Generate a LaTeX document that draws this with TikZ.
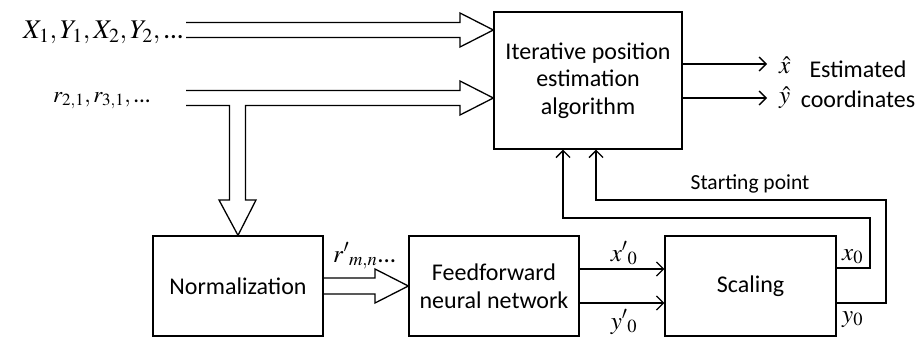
\documentclass[tikz,border=0pt]{standalone}
\usepackage{mathptmx}
\usepackage[no-math]{fontspec}
\setmainfont{Carlito}
\usetikzlibrary{arrows.meta}
\tikzset{
  blk/.style={draw, line width=1.3pt, inner sep=0pt, align=center, font=\fontsize{24}{28}\selectfont},
  wire/.style={line width=1.3pt},
  arr/.style={wire, -{Straight Barb[length=7pt,width=14pt]}},
  dbl/.style={line width=1.3pt, line join=miter},
  mlab/.style={inner sep=0pt, font=\fontsize{25}{30}\selectfont},
  tlab/.style={inner sep=0pt, align=center, font=\fontsize{24}{30}\selectfont},
}
\begin{document}
\begin{tikzpicture}[x=1pt,y=-1pt]
\useasboundingbox (0,0) rectangle (923,338);
% blocks
\node[blk, font=\fontsize{24}{27.5}\selectfont, minimum width=188pt, minimum height=137pt] (iter) at (588,80.5) {Iterative position\\estimation\\algorithm};
\node[blk, minimum width=170pt, minimum height=100pt] (norm) at (238,286) {Normalization};
\node[blk, minimum width=170pt, minimum height=100pt] (ffnn) at (494,286) {Feedforward\\neural network};
\node[blk, minimum width=171pt, minimum height=100pt] (scal) at (750.5,286) {Scaling};
% input labels
\node[mlab, font=\fontsize{27}{30}\selectfont, anchor=base east] (xy) at (184,38) {$X_1, Y_1, X_2, Y_2,\mbox{...}$};
\node[mlab, font=\fontsize{23}{30}\selectfont, anchor=base east] (rr) at (151,102) {$r_{2,1}, r_{3,1},\mbox{...}$};
% upper double arrow
\coordinate (in1) at (iter.west |- 0,30);
\draw[dbl] (186,22.5) -- (460,22.5) -- (460,13) -- (in1) -- (460,47) -- (460,37.5) -- (186,37.5);
% lower double arrow with branch
\coordinate (in2) at (iter.west |- 0,98);
\draw[dbl] (186,90.5) -- (460,90.5) -- (460,81) -- (in2) -- (460,115) -- (460,105.5)
  -- (245.5,105.5) -- (245.5,200) -- (256,200) -- (norm.north) -- (219,200) -- (229.5,200)
  -- (229.5,105.5) -- (186,105.5);
% norm -> ffnn double arrow
\draw[dbl] (norm.east |- 0,278) -- (375,278) -- (375,269) -- (ffnn.west) -- (375,303) -- (375,294) -- (norm.east |- 0,294);
\node[mlab, anchor=base west] (rp) at (333,262) {$r'{}_{m,n}\mbox{...}$};
% ffnn -> scaling
\draw[arr] (ffnn.east |- 0,269) -- (scal.west |- 0,269);
\draw[arr] (ffnn.east |- 0,303) -- (scal.west |- 0,303);
\node[mlab, anchor=base] (xp) at (624,261) {$x'{}_0$};
\node[mlab, anchor=base] (yp) at (624,329) {$y'{}_0$};
% scaling outputs feedback
\draw[arr] (scal.east |- 0,268) -- (870,268) -- (870,218) -- (563,218) -- (563,0 |- iter.south);
\draw[arr] (scal.east |- 0,303) -- (886,303) -- (886,200) -- (596,200) -- (596,0 |- iter.south);
\node[mlab, anchor=base west] (x0) at (842,260) {$x_0$};
\node[mlab, anchor=base west] (y0) at (842,322) {$y_0$};
\node[tlab, font=\fontsize{21.5}{24}\selectfont] (sp) at (750,184) {Starting point};
% outputs
\draw[arr] (iter.east |- 0,64) -- (767,64) coordinate (o1);
\draw[arr] (iter.east |- 0,98) -- (767,98) coordinate (o2);
\node[mlab, anchor=base west] (xh) at (779,73) {$\hat{x}$};
\node[mlab, anchor=base west] (yh) at (779,103) {$\hat{y}$};
\node[tlab] (est) at (858,84) {Estimated\\coordinates};
\end{tikzpicture}
\end{document}
